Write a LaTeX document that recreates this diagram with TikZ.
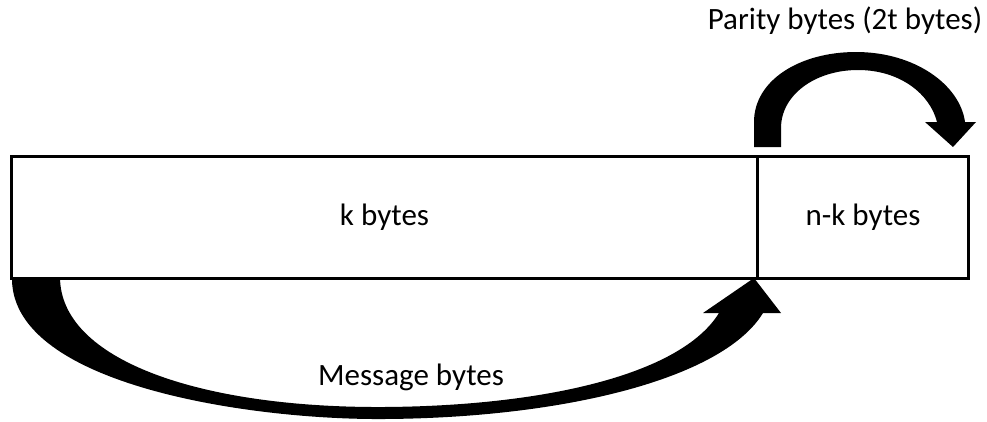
\documentclass[tikz,border=0pt]{standalone}
\usepackage{fontspec}
\setmainfont{Carlito}
\begin{document}
\begin{tikzpicture}[x=1pt,y=-1pt,
  cell/.style={draw=black,line width=3pt,minimum height=122pt,inner sep=0pt,font=\fontsize{31}{36}\selectfont},
  lbl/.style={font=\fontsize{31}{36}\selectfont,inner sep=0pt},
  bigarrow/.style={fill=black,draw=none}]
\useasboundingbox (0,0) rectangle (987,421);
% the codeword: message part and parity part
\node[cell,minimum width=746pt,anchor=north west] (msg) at (10,155) {k bytes};
\node[cell,minimum width=211pt,anchor=north west] (par) at (756,155) {n-k bytes};
% labels
\node[lbl] (mlabel) at (411,377) {Message bytes};
\node[lbl] (plabel) at (845,21) {Parity bytes (2t bytes)};
% wide curved arrow under the message block
\fill[bigarrow] (msg.south west) ++(2,0)
  .. controls (14,385) and (250,420) .. (384,419)
  .. controls (560,418) and (722,380) .. (763,313)
  -- (781,313) -- (754,278) -- (703,313) -- (719,313)
  .. controls (680,376) and (540,406) .. (384,407)
  .. controls (200,408) and (60,360) .. (60,277) -- cycle;
% wide curved arrow over the parity block
\fill[bigarrow] (754,147) -- (754,122)
  .. controls (754,80) and (800,52) .. (856,52)
  .. controls (915,52) and (960,85) .. (965,122)
  -- (976,122) -- (953,147) -- (925,122) -- (937,122)
  .. controls (930,94) and (900,70) .. (858,70)
  .. controls (815,70) and (781,95) .. (781,128) -- (781,147) -- cycle;
\end{tikzpicture}
\end{document}
